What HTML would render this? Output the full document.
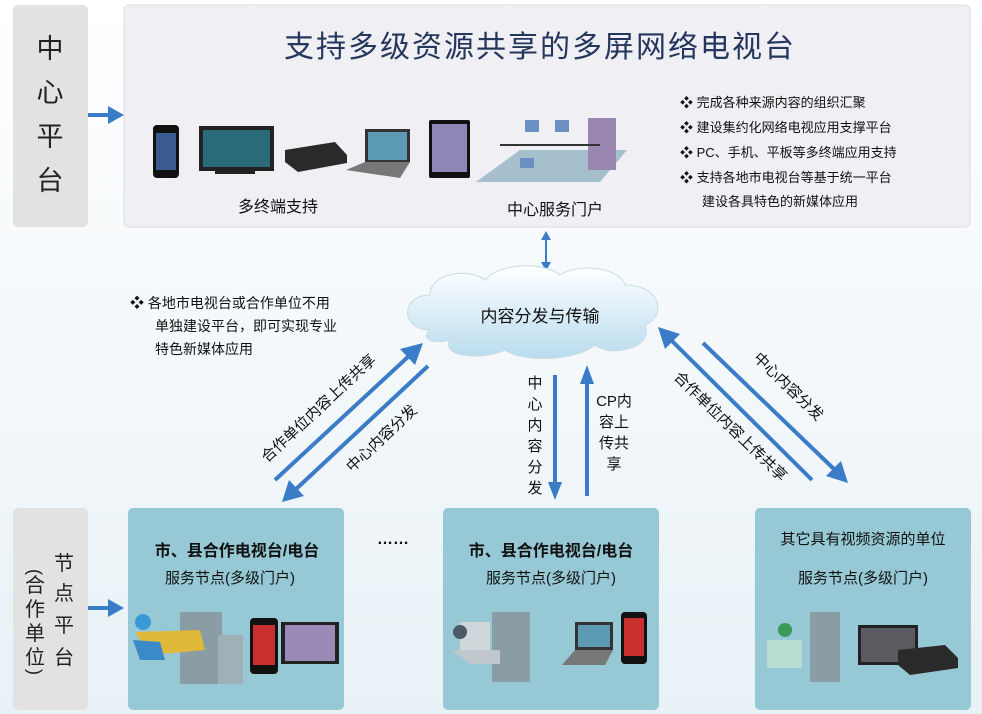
<!DOCTYPE html>
<html><head><meta charset="utf-8"><style>
html,body{margin:0;padding:0;background:#fafcfd;}
svg{display:block;font-family:"Liberation Sans","Noto Sans CJK SC",sans-serif;}
</style></head><body>
<svg width="982" height="714" viewBox="0 0 982 714" xmlns="http://www.w3.org/2000/svg">
<defs>
<linearGradient id="bg" x1="0" y1="0" x2="0" y2="1"><stop offset="0" stop-color="#ffffff"/><stop offset="1" stop-color="#e8f1f6"/></linearGradient>
<linearGradient id="cl" x1="0" y1="0" x2="0" y2="1"><stop offset="0" stop-color="#ffffff"/><stop offset="1" stop-color="#b9dcef"/></linearGradient>
</defs>
<rect width="982" height="714" fill="url(#bg)"/>
<rect x="13" y="5" width="75" height="222" rx="5" fill="#e2e2e2"/>
<g font-size="27" fill="#222" text-anchor="middle">
<text x="50" y="58">中</text><text x="50" y="102">心</text><text x="50" y="146">平</text><text x="50" y="190">台</text>
</g>
<line x1="88" y1="115" x2="112" y2="115" stroke="#3a7cc8" stroke-width="4"/>
<path d="M108,106 L124,115 L108,124 z" fill="#3a7cc8"/>
<rect x="124" y="5" width="846" height="222" rx="5" fill="#efeff4" stroke="#dcdce2"/>
<text x="540" y="57" font-size="30" fill="#26375e" text-anchor="middle" letter-spacing="2">支持多级资源共享的多屏网络电视台</text>
<g font-size="13" fill="#111">
<text x="680" y="107">❖  完成各种来源内容的组织汇聚</text>
<text x="680" y="132">❖  建设集约化网络电视应用支撑平台</text>
<text x="680" y="157">❖  PC、手机、平板等多终端应用支持</text>
<text x="680" y="182">❖  支持各地市电视台等基于统一平台</text>
<text x="702" y="206">建设各具特色的新媒体应用</text>
</g>
<rect x="153" y="125" width="26" height="53" rx="4" fill="#111"/><rect x="156" y="133" width="20" height="37" fill="#3a5a90"/>
<rect x="199" y="126" width="75" height="45" fill="#222"/><rect x="203" y="130" width="67" height="37" fill="#2b6a78"/><rect x="215" y="171" width="40" height="3" fill="#222"/>
<path d="M285,150 L335,142 L347,155 L347,163 L298,172 L285,162 z" fill="#2a2a2a"/>
<rect x="365" y="129" width="45" height="33" fill="#333"/><rect x="368" y="132" width="39" height="28" fill="#5d9ab3"/><path d="M346,170 L365,162 L410,162 L400,178 z" fill="#777"/>
<rect x="429" y="120" width="41" height="58" rx="2" fill="#111"/><rect x="432" y="124" width="35" height="48" fill="#8f86b8"/>
<path d="M476,182 L520,150 L627,150 L600,182 z" fill="#a5bfcc"/>
<rect x="525" y="120" width="14" height="12" fill="#6a8fc0"/><rect x="555" y="120" width="14" height="12" fill="#6a8fc0"/>
<rect x="588" y="118" width="28" height="52" fill="#9a87b0"/><rect x="520" y="158" width="14" height="10" fill="#6a8fc0"/>
<line x1="500" y1="145" x2="600" y2="145" stroke="#333" stroke-width="2"/>
<text x="278" y="212" font-size="16" fill="#111" text-anchor="middle">多终端支持</text>
<text x="555" y="215" font-size="16" fill="#111" text-anchor="middle">中心服务门户</text>
<line x1="546" y1="238" x2="546" y2="264" stroke="#3a7cc8" stroke-width="2"/>
<path d="M541,240 L546,231 L551,240 z M541,262 L546,271 L551,262 z" fill="#3a7cc8"/>
<path d="M430,330 C400,330 400,295 430,295 C430,272 470,268 485,280 C500,262 545,262 560,275 C580,262 620,268 625,285 C660,285 668,315 645,325 C655,348 610,358 595,345 C575,362 520,362 505,350 C485,360 440,358 450,340 C432,345 420,338 430,330 z" fill="url(#cl)" stroke="#c8dbe6"/>
<text x="540" y="322" font-size="17" fill="#111" text-anchor="middle">内容分发与传输</text>
<g font-size="14" fill="#111">
<text x="130" y="308">❖  各地市电视台或合作单位不用</text>
<text x="155" y="331">单独建设平台，即可实现专业</text>
<text x="155" y="354">特色新媒体应用</text>
</g>
<g stroke="#3a7cc8" stroke-width="4" fill="none">
<line x1="275" y1="480" x2="410" y2="355"/>
<line x1="428" y1="366" x2="294" y2="491"/>
<line x1="555" y1="375" x2="555" y2="484"/>
<line x1="587" y1="496" x2="587" y2="381"/>
<line x1="812" y1="480" x2="670" y2="339"/>
<line x1="703" y1="343" x2="836" y2="471"/>
</g>
<g fill="#3a7cc8">
<path d="M423,343 L400,349 L415,365 z"/>
<path d="M282,502 L289,480 L304,496 z"/>
<path d="M548,482 L562,482 L555,500 z"/>
<path d="M580,384 L594,384 L587,365 z"/>
<path d="M658,327 L665,349 L680,334 z"/>
<path d="M848,483 L826,476 L841,461 z"/>
</g>
<g font-size="15" fill="#111" text-anchor="middle">
<text transform="translate(322,412) rotate(-43)">合作单位内容上传共享</text>
<text transform="translate(385,442) rotate(-43)">中心内容分发</text>
<text transform="translate(727,430) rotate(44)">合作单位内容上传共享</text>
<text transform="translate(785,390) rotate(44)">中心内容分发</text>
<text x="535" y="388">中</text><text x="535" y="409">心</text><text x="535" y="430">内</text><text x="535" y="451">容</text><text x="535" y="472">分</text><text x="535" y="493">发</text>
<text x="614" y="406">CP内</text><text x="614" y="427">容上</text><text x="614" y="448">传共</text><text x="614" y="469">享</text>
</g>
<rect x="13" y="508" width="75" height="202" rx="5" fill="#e2e2e2"/>
<g font-size="20" fill="#222" text-anchor="middle">
<text x="64" y="570">节</text><text x="64" y="600">点</text><text x="64" y="632">平</text><text x="64" y="664">台</text>
<text transform="translate(29,572) rotate(90)" font-size="18">(</text><text x="35" y="592">合</text><text x="35" y="616">作</text><text x="35" y="640">单</text><text x="35" y="664">位</text><text transform="translate(29,672) rotate(90)" font-size="18">)</text>
</g>
<line x1="88" y1="608" x2="112" y2="608" stroke="#3a7cc8" stroke-width="4"/>
<path d="M108,599 L124,608 L108,617 z" fill="#3a7cc8"/>
<rect x="128" y="508" width="216" height="202" rx="5" fill="#96c9d5"/>
<rect x="443" y="508" width="216" height="202" rx="5" fill="#96c9d5"/>
<rect x="755" y="508" width="216" height="202" rx="5" fill="#96c9d5"/>
<text x="393" y="544" font-size="16" font-weight="bold" fill="#111" text-anchor="middle">……</text>
<g fill="#111" text-anchor="middle">
<text x="237" y="556" font-size="16" font-weight="bold">市、县合作电视台/电台</text>
<text x="230" y="583" font-size="15">服务节点(多级门户)</text>
<text x="551" y="556" font-size="16" font-weight="bold">市、县合作电视台/电台</text>
<text x="551" y="583" font-size="15">服务节点(多级门户)</text>
<text x="863" y="544" font-size="15">其它具有视频资源的单位</text>
<text x="863" y="583" font-size="15">服务节点(多级门户)</text>
</g>
<g>
<rect x="180" y="612" width="42" height="72" fill="#8a9ca4"/><rect x="218" y="635" width="25" height="49" fill="#9fb0b6"/>
<path d="M135,632 L200,630 L205,650 L150,655 z" fill="#e0b83a"/><circle cx="143" cy="622" r="8" fill="#3a9ad8"/><path d="M133,640 L160,642 L165,660 L140,660 z" fill="#3a8ac8"/>
<rect x="250" y="618" width="28" height="56" rx="4" fill="#111"/><rect x="253" y="625" width="22" height="40" fill="#c83030"/>
<rect x="281" y="622" width="58" height="42" fill="#222"/><rect x="285" y="625" width="50" height="36" fill="#9a8ab8"/>
<rect x="492" y="612" width="38" height="70" fill="#8a9ca4"/>
<rect x="460" y="622" width="30" height="28" fill="#cfd6da"/><path d="M452,650 L500,650 L500,664 L470,664 z" fill="#bfc8cc"/><circle cx="460" cy="632" r="7" fill="#4a5a6a"/>
<rect x="575" y="622" width="38" height="28" fill="#333"/><rect x="578" y="625" width="32" height="22" fill="#5d9ab3"/><path d="M562,665 L575,650 L613,650 L605,665 z" fill="#777"/>
<rect x="621" y="612" width="26" height="52" rx="4" fill="#111"/><rect x="624" y="618" width="20" height="38" fill="#c83030"/>
<rect x="810" y="612" width="30" height="70" fill="#8a9ca4"/>
<rect x="767" y="640" width="35" height="28" fill="#b8dcd0"/><circle cx="785" cy="630" r="7" fill="#3a9a5a"/>
<rect x="858" y="625" width="60" height="40" fill="#222"/><rect x="861" y="628" width="54" height="34" fill="#5a5a60"/>
<path d="M898,650 L945,645 L958,658 L958,668 L910,675 L898,665 z" fill="#2a2a2a"/>
</g>
</svg>
</body></html>
